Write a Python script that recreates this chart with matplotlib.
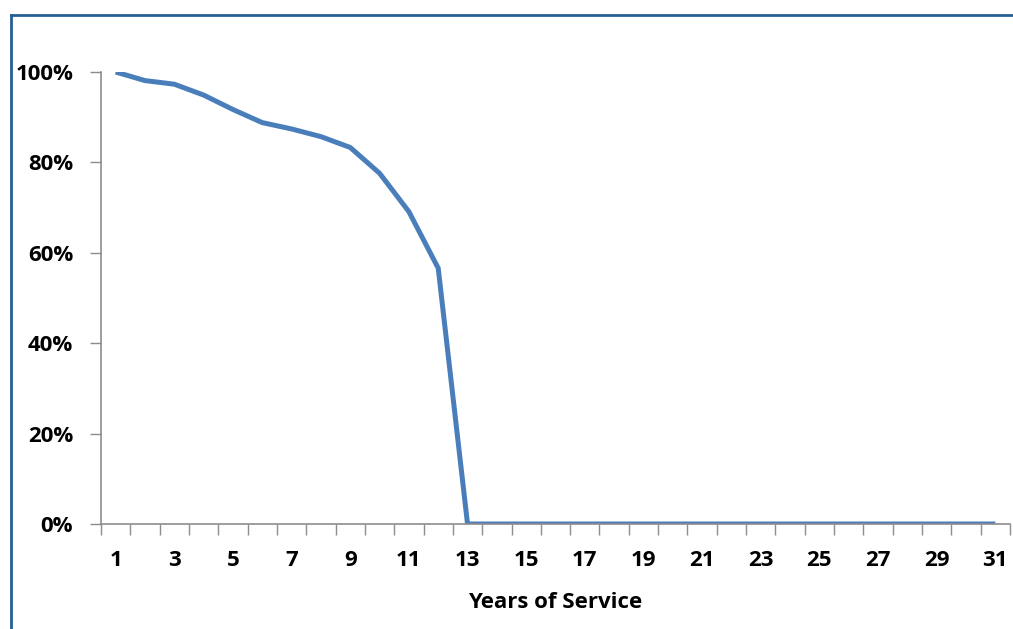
import matplotlib.pyplot as plt
from matplotlib.lines import Line2D
from matplotlib.ticker import FixedLocator, NullFormatter

# Anteil je Dienstjahr (in %)
years = list(range(1, 32))
share = [100, 98.1, 97.3, 94.9, 91.7, 88.8, 87.4, 85.7, 83.3, 77.6, 69.1, 56.6] + [0] * 19
tick_labels = [str(y) for y in range(1, 32, 2)]
y_labels = ['0%', '20%', '40%', '60%', '80%', '100%']
x_title = 'Years of Service'

plt.rcParams['font.family'] = ['Open Sans', 'DejaVu Sans']
axis_grey = '#8c8c8c'
line_blue = '#4a7ebb'
frame_blue = '#255f96'
fs = 16

fig = plt.figure(figsize=(10.13, 6.29), dpi=100)
ax = fig.add_axes([101 / 1013, 1 - 524 / 629, (1010 - 101) / 1013, (524 - 72) / 629])

ax.plot(years, share, color=line_blue, linewidth=3.6, solid_capstyle='butt', solid_joinstyle='round')

ax.set_xlim(0.5, 31.5)
ax.set_ylim(0, 100)

# Kategorieachse: Striche zwischen den Kategorien, Beschriftung an ungeraden Jahren
ax.xaxis.set_major_locator(FixedLocator([y + 0.5 for y in range(0, 32)]))
ax.xaxis.set_major_formatter(NullFormatter())
ax.xaxis.set_minor_locator(FixedLocator(list(range(1, 32, 2))))
ax.set_xticklabels(tick_labels, minor=True)
ax.tick_params(axis='x', which='major', length=8, width=1, color=axis_grey, direction='out')
ax.tick_params(axis='x', which='minor', length=0, pad=18.5, labelsize=fs, labelcolor='black')
for lab in ax.get_xticklabels(minor=True):
    lab.set_fontweight('bold')

ax.set_yticks(range(0, 101, 20))
ax.set_yticklabels(y_labels, fontsize=fs, fontweight='bold')
ax.tick_params(axis='y', length=8, width=1, color=axis_grey, pad=12)

ax.set_xlabel(x_title, fontsize=fs, fontweight='bold', labelpad=15.5)

for side in ['top', 'right']:
    ax.spines[side].set_visible(False)
for side in ['left', 'bottom']:
    ax.spines[side].set_color(axis_grey)
    ax.spines[side].set_linewidth(1.2)

# Rahmen oben und links (rechts/unten abgeschnitten)
fig.add_artist(Line2D([10.5 / 1013, 1], [1 - 14.5 / 629] * 2, color=frame_blue, linewidth=2, transform=fig.transFigure))
fig.add_artist(Line2D([10.5 / 1013] * 2, [0, 1 - 14.5 / 629], color=frame_blue, linewidth=2, transform=fig.transFigure))

fig.savefig('out.png', dpi=100)
